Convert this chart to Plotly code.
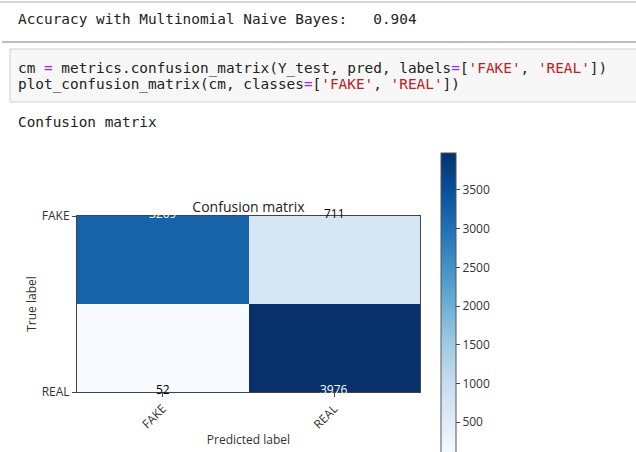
import plotly.graph_objects as go

# Confusion matrix of the Multinomial Naive Bayes classifier
classes = ["FAKE", "REAL"]
cm_values = [[3209, 711],
             [52, 3976]]
accuracy = 0.904
cbar_ticks = [500, 1000, 1500, 2000, 2500, 3000, 3500]

# Blues colour map
blues = ["#f7fbff", "#deebf7", "#c6dbef", "#9ecae1", "#6baed6",
         "#4292c6", "#2171b5", "#08519c", "#08306b"]
colorscale = [[i / (len(blues) - 1), c] for i, c in enumerate(blues)]

W, H = 636, 452
ML, MR, MT, MB = 77, 216, 216, 60
PW, PH = W - ML - MR, H - MT - MB


def px(x):
    return (x - ML) / PW


def py(y):
    return (H - MB - y) / PH


MONO = "DejaVu Sans Mono"
SANS = "Open Sans"
flat = [v for row in cm_values for v in row]
zmin, zmax = min(flat), max(flat)

fig = go.Figure()
fig.add_trace(go.Heatmap(
    z=cm_values, x=classes, y=classes,
    colorscale=colorscale, zmin=zmin, zmax=zmax,
    hoverinfo="skip",
    colorbar=dict(
        x=px(441), xanchor="left", xpad=0,
        y=py(153), yanchor="top", ypad=0,
        len=304, lenmode="pixels", thickness=15, thicknessmode="pixels",
        outlinecolor="#555", outlinewidth=1,
        tickvals=cbar_ticks, ticks="outside", ticklen=4,
        tickcolor="#444", tickfont=dict(family=SANS, size=12, color="#333"),
    ),
))

# cell counts, white on dark cells
thresh = zmax / 2
annotations = []
for i, row in enumerate(cm_values):
    for j, v in enumerate(row):
        annotations.append(dict(
            x=classes[j], y=classes[i], xref="x", yref="y", text=str(v),
            showarrow=False, yshift=3,
            font=dict(family=SANS, size=12, color="white" if v > thresh else "black"),
        ))

# notebook text around the figure
nb = "\u00a0"
acc_line = f"Accuracy{nb}with{nb}Multinomial{nb}Naive{nb}Bayes:{nb * 3}{accuracy}"
eq = '<span style="color:#aa22ff">=</span>'


def s(t):
    return f'<span style="color:#ba2121">\'{t}\'</span>'


code1 = (f"cm{nb}{eq}{nb}metrics.confusion_matrix(Y_test,{nb}pred,{nb}labels{eq}"
         f"[{s(classes[0])},{nb}{s(classes[1])}])")
code2 = f"plot_confusion_matrix(cm,{nb}classes{eq}[{s(classes[0])},{nb}{s(classes[1])}])"
out_line = f"Confusion{nb}matrix"

for text, ty in [(acc_line, 19), (code1, 68), (code2, 84), (out_line, 122)]:
    annotations.append(dict(
        x=px(16), y=py(ty), xref="paper", yref="paper", text=text,
        xanchor="left", yanchor="middle", showarrow=False,
        font=dict(family=MONO, size=14.4, color="#222"),
    ))

shapes = [
    dict(type="line", xref="paper", yref="paper", x0=px(0), x1=px(W), y0=py(2), y1=py(2),
         line=dict(color="#d6d6d6", width=2), layer="below"),
    dict(type="line", xref="paper", yref="paper", x0=px(2), x1=px(W), y0=py(42), y1=py(42),
         line=dict(color="#bdbdbd", width=2), layer="below"),
    dict(type="rect", xref="paper", yref="paper", x0=px(10), x1=px(W + 5), y0=py(49), y1=py(102),
         fillcolor="#f7f7f7", line=dict(color="#cfcfcf", width=1), layer="below"),
]

axis_common = dict(
    showline=True, linecolor="#444", linewidth=1, mirror=True,
    ticks="outside", ticklen=4, tickcolor="#444", showgrid=False, zeroline=False,
    tickfont=dict(family=SANS, size=12, color="#333"),
)

fig.update_layout(
    width=W, height=H,
    margin=dict(l=ML, r=MR, t=MT, b=MB, autoexpand=False),
    paper_bgcolor="white", plot_bgcolor="white",
    title=dict(text="Confusion matrix", x=0.5, xref="paper", xanchor="center",
               y=(H - 207) / H, yref="container", yanchor="middle",
               font=dict(family=SANS, size=14, color="#222")),
    xaxis=dict(axis_common, range=[-0.5, 1.5], tickangle=-45, automargin=False,
               title=dict(text="Predicted label", standoff=4,
                          font=dict(family=SANS, size=12, color="#333"))),
    yaxis=dict(axis_common, range=[1, 0], automargin=False,
               title=dict(text="True label", standoff=2,
                          font=dict(family=SANS, size=12, color="#333"))),
    annotations=annotations,
    shapes=shapes,
)

fig.write_html("out.html")
